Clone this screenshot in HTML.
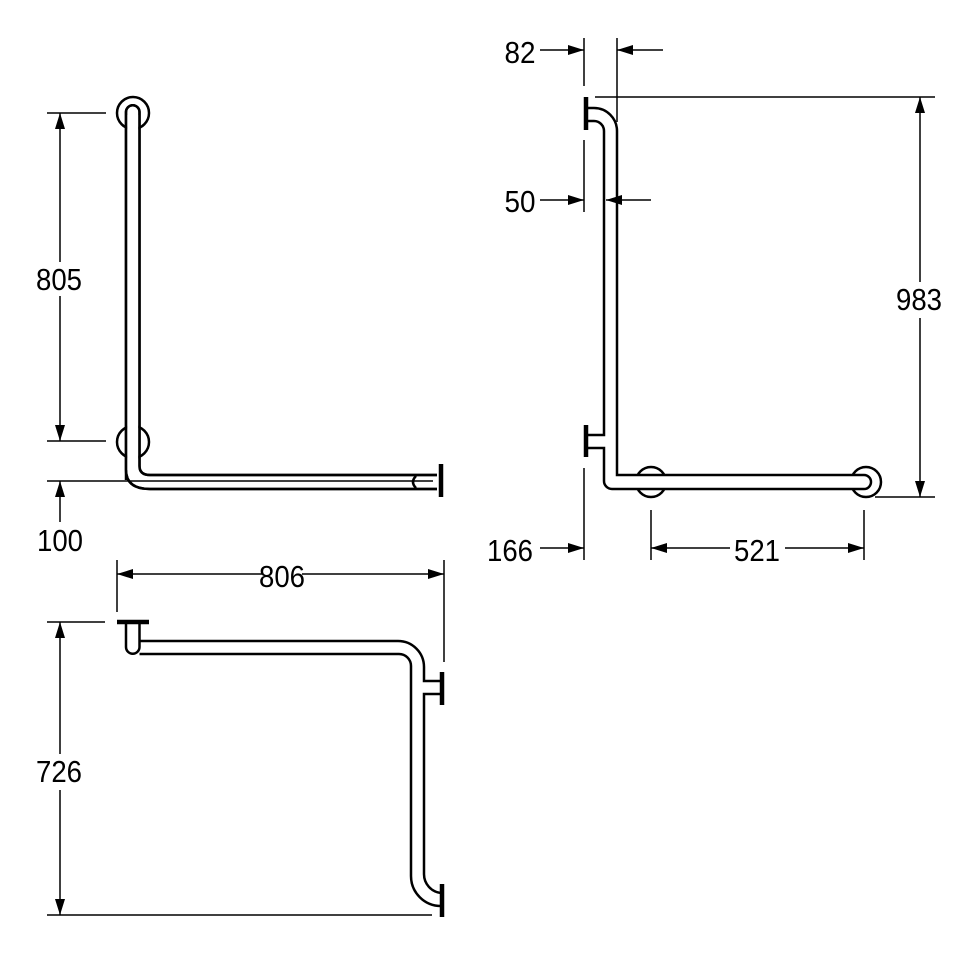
<!DOCTYPE html>
<html><head><meta charset="utf-8"><style>html,body{margin:0;padding:0;background:#fff}svg{display:block}</style></head>
<body>
<svg width="960" height="960" viewBox="0 0 960 960" xmlns="http://www.w3.org/2000/svg">
<defs>
<marker id="a" viewBox="0 0 16 10" refX="16" refY="5" markerWidth="16" markerHeight="10" markerUnits="userSpaceOnUse" orient="auto"><path d="M0,0 L16,5 L0,10 z" fill="#000"/></marker>
</defs>
<g fill="none" stroke="#000" stroke-width="1.5">
<!-- View 1 -->
<line x1="47" y1="113" x2="106" y2="113"/>
<line x1="47" y1="441" x2="106" y2="441"/>
<line x1="47" y1="481" x2="433" y2="481"/>
<line x1="60" y1="262" x2="60" y2="113" marker-end="url(#a)"/>
<line x1="60" y1="296" x2="60" y2="441" marker-end="url(#a)"/>
<line x1="60" y1="522" x2="60" y2="481" marker-end="url(#a)"/>
<g stroke-width="2.5">
<circle cx="133" cy="113" r="16" fill="#fff"/>
<circle cx="133" cy="442" r="16" fill="#fff"/>
<path d="M126,480 L126,112 A6.5,6.5 0 0 1 139.5,112 L139.5,466 Q139.5,475 150,475 L437,475 M437,489 L150,489 Q126,489 126,470" fill="none"/>
<path d="M126,128 L126,440 M139.5,128 L139.5,440" stroke="#fff" stroke-width="0"/>
<rect x="127.2" y="115" width="11" height="355" fill="#fff" stroke="none"/>
<path d="M126,112 L126,470 Q126,489 150,489 L437,489 M139.5,112 L139.5,466 Q139.5,475 150,475 L437,475 M126,112 A6.75,6.75 0 0 1 139.5,112"/>
<path d="M416,476 Q410,482 416,488"/>
</g>
<line x1="441" y1="464" x2="441" y2="497" stroke-width="4.5"/>

<!-- View 2 -->
<line x1="584" y1="38" x2="584" y2="86"/>
<line x1="617" y1="38" x2="617" y2="122"/>
<line x1="540" y1="50" x2="584" y2="50" marker-end="url(#a)"/>
<line x1="663" y1="50" x2="617" y2="50" marker-end="url(#a)"/>
<line x1="584" y1="140" x2="584" y2="212"/>
<line x1="540" y1="200" x2="584" y2="200" marker-end="url(#a)"/>
<line x1="651" y1="200" x2="606" y2="200" marker-end="url(#a)"/>
<line x1="595" y1="97" x2="935" y2="97"/>
<line x1="875" y1="497" x2="935" y2="497"/>
<line x1="920" y1="282" x2="920" y2="97" marker-end="url(#a)"/>
<line x1="920" y1="318" x2="920" y2="497" marker-end="url(#a)"/>
<line x1="584" y1="468" x2="584" y2="560"/>
<line x1="540" y1="548" x2="584" y2="548" marker-end="url(#a)"/>
<line x1="651" y1="510" x2="651" y2="560"/>
<line x1="864" y1="510" x2="864" y2="560"/>
<line x1="730" y1="548" x2="651" y2="548" marker-end="url(#a)"/>
<line x1="785" y1="548" x2="864" y2="548" marker-end="url(#a)"/>
<g stroke-width="2.5">
<circle cx="651" cy="482" r="15" fill="#fff"/>
<circle cx="866" cy="482" r="15" fill="#fff"/>
<rect x="605" y="476" width="258" height="12" fill="#fff" stroke="none"/>
<path d="M588,108 L594,108 A23,23 0 0 1 617,131 L617,475 L864,475 A7,7 0 0 1 864,489 L612,489 A8,8 0 0 1 604,481 L604,448 L588,448 M588,435 L604,435 L604,131 A10,10 0 0 0 594,121 L588,121"/>
</g>
<line x1="586" y1="97" x2="586" y2="130" stroke-width="4.5"/>
<line x1="586" y1="425" x2="586" y2="457" stroke-width="4.5"/>

<!-- View 3 -->
<line x1="117" y1="560" x2="117" y2="612"/>
<line x1="444" y1="560" x2="444" y2="662"/>
<line x1="262" y1="574" x2="117" y2="574" marker-end="url(#a)"/>
<line x1="302" y1="574" x2="444" y2="574" marker-end="url(#a)"/>
<line x1="47" y1="622" x2="105" y2="622"/>
<line x1="47" y1="915" x2="432" y2="915"/>
<line x1="60" y1="754" x2="60" y2="622" marker-end="url(#a)"/>
<line x1="60" y1="790" x2="60" y2="915" marker-end="url(#a)"/>
<g stroke-width="2.5">
<path d="M126,623 L126,647 A6.75,6.75 0 0 0 139.5,647 L139.5,623"/>
<path d="M139.5,641 L398,641 A26,26 0 0 1 424,667 L424,681 L441,681 M441,694 L424,694 L424,874 A19,19 0 0 0 441,893 M441,906 A30,30 0 0 1 411,876 L411,666 A12,12 0 0 0 399,654 L139.5,654"/>
</g>
<line x1="117" y1="622" x2="149" y2="622" stroke-width="4.5"/>
<line x1="442" y1="672" x2="442" y2="705" stroke-width="4.5"/>
<line x1="442" y1="884" x2="442" y2="917" stroke-width="4.5"/>
</g>
<g font-family="'Liberation Sans', sans-serif" font-size="31" fill="#000" text-anchor="middle" lengthAdjust="spacingAndGlyphs">
<text x="59" y="290" textLength="46" lengthAdjust="spacingAndGlyphs">805</text>
<text x="60" y="551" textLength="46" lengthAdjust="spacingAndGlyphs">100</text>
<text x="282" y="587" textLength="46" lengthAdjust="spacingAndGlyphs">806</text>
<text x="59" y="782" textLength="46" lengthAdjust="spacingAndGlyphs">726</text>
<text x="520" y="63" textLength="31" lengthAdjust="spacingAndGlyphs">82</text>
<text x="520" y="212" textLength="31" lengthAdjust="spacingAndGlyphs">50</text>
<text x="919" y="310" textLength="46" lengthAdjust="spacingAndGlyphs">983</text>
<text x="510" y="561" textLength="46" lengthAdjust="spacingAndGlyphs">166</text>
<text x="757" y="561" textLength="46" lengthAdjust="spacingAndGlyphs">521</text>
</g>
</svg>
</body></html>
